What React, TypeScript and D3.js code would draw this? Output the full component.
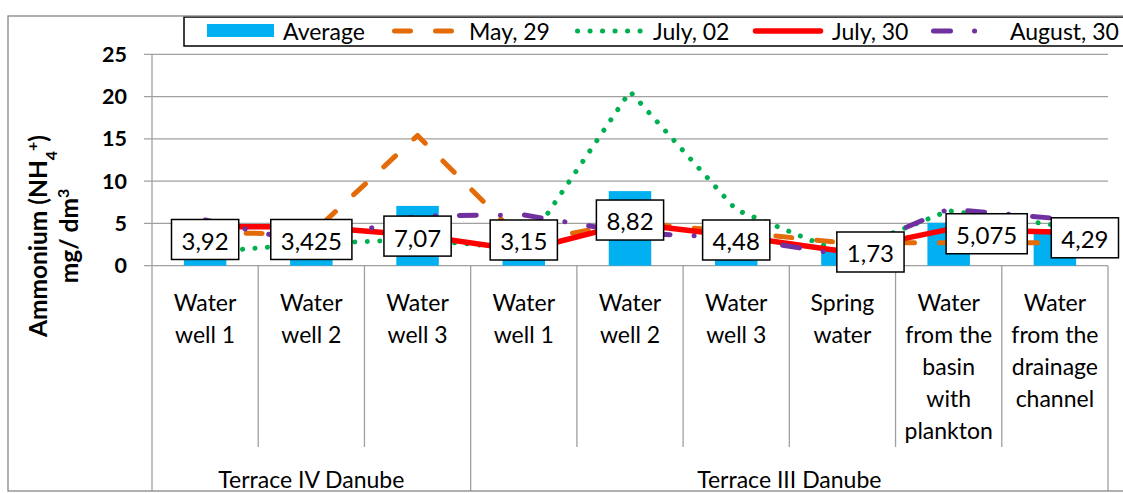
import React, { useEffect, useRef } from 'react';
import * as d3 from 'd3';

// ---------- data ----------
const categories: string[][] = [
  ['Water', 'well 1'],
  ['Water', 'well 2'],
  ['Water', 'well 3'],
  ['Water', 'well 1'],
  ['Water', 'well 2'],
  ['Water', 'well 3'],
  ['Spring', 'water'],
  ['Water', 'from the', 'basin', 'with', 'plankton'],
  ['Water', 'from the', 'drainage', 'channel'],
];
const groupNames = ['Terrace IV Danube', 'Terrace III Danube'];
const groupSizes = [3, 6];

const average = [3.92, 3.425, 7.07, 3.15, 8.82, 4.48, 1.73, 5.075, 4.29];
const averageLabels = ['3,92', '3,425', '7,07', '3,15', '8,82', '4,48', '1,73', '5,075', '4,29'];
const may29 = [3.9, 3.75, 15.4, 2.8, 5.1, 4.0, 2.7, 2.7, 2.7];
const july02 = [1.6, 2.6, 3.1, 2.0, 20.6, 6.6, 1.5, 6.5, 4.8];
const july30 = [4.6, 4.6, 3.6, 1.8, 5.0, 3.5, 1.7, 4.3, 4.0];
const august30 = [5.4, 2.6, 5.9, 6.0, 3.9, 3.3, 1.3, 6.7, 5.6];
// where each (manually placed) data label box sits, in data units
const labelAnchor = [3.1, 3.1, 3.5, 3.04, 5.4, 3.04, 1.62, 3.78, 3.3];
const yTicks = [0, 5, 10, 15, 20, 25];

const FONT = 'Lato, "Open Sans", sans-serif';

export default function App() {
  const ref = useRef<SVGSVGElement | null>(null);

  useEffect(() => {
    const svg = d3.select(ref.current);
    svg.selectAll('*').remove();

    const W = 1123;
    const plotL = 152, plotR = 1108, plotT = 54.3, plotB = 265.7;

    const defs = svg.append('defs');
    defs.append('clipPath').attr('id', 'chartClip')
      .append('rect').attr('x', 8).attr('y', 16).attr('width', W).attr('height', 475);

    const root = svg.append('g').attr('clip-path', 'url(#chartClip)');
    root.append('rect').attr('x', 8).attr('y', 16).attr('width', W).attr('height', 475).attr('fill', '#fff');

    const idx = d3.range(categories.length).map(String);
    const x = d3.scaleBand<string>().domain(idx).range([plotL, plotR]).paddingInner(0).paddingOuter(0);
    const y = d3.scaleLinear().domain([0, 25]).range([plotB, plotT]);
    const cx = (i: number) => (x(String(i)) as number) + x.bandwidth() / 2;

    const gridColor = '#a0a0a0';

    // gridlines
    root.append('g').selectAll('line').data(yTicks).join('line')
      .attr('x1', plotL - 8).attr('x2', plotR)
      .attr('y1', d => y(d)).attr('y2', d => y(d))
      .attr('stroke', gridColor).attr('stroke-width', 1.3);

    // y axis line (extends through category area)
    root.append('line').attr('x1', plotL).attr('x2', plotL).attr('y1', plotT).attr('y2', 491)
      .attr('stroke', gridColor).attr('stroke-width', 1.3);

    // category separators
    let cum = 0;
    const groupBounds: number[] = [];
    groupSizes.forEach(s => { cum += s; groupBounds.push(cum); });
    for (let i = 1; i <= categories.length; i++) {
      const bx = i === categories.length ? plotR : (x(String(i)) as number);
      const full = groupBounds.includes(i);
      root.append('line').attr('x1', bx).attr('x2', bx).attr('y1', plotB)
        .attr('y2', full ? 491 : 447)
        .attr('stroke', gridColor).attr('stroke-width', 1.3);
    }

    // y tick labels
    root.append('g').selectAll('text').data(yTicks).join('text')
      .attr('x', 127).attr('y', d => y(d)).attr('dy', '0.35em')
      .attr('text-anchor', 'end').attr('font-family', FONT).attr('font-weight', 'bold')
      .attr('font-size', 21.5).attr('fill', '#000').text(d => String(d));

    // y axis title
    const t1 = root.append('text').attr('transform', 'translate(38,236) rotate(-90)')
      .attr('text-anchor', 'middle').attr('font-family', FONT).attr('font-weight', 'bold')
      .attr('font-size', 24.5).attr('fill', '#000').attr('dy', '0.35em');
    t1.append('tspan').text('Ammonium (NH');
    t1.append('tspan').attr('baseline-shift', 'sub').attr('font-size', 16).text('4');
    t1.append('tspan').attr('baseline-shift', 'super').attr('font-size', 16).text('+');
    t1.append('tspan').text(')');
    const t2 = root.append('text').attr('transform', 'translate(69,236) rotate(-90)')
      .attr('text-anchor', 'middle').attr('font-family', FONT).attr('font-weight', 'bold')
      .attr('font-size', 24.5).attr('fill', '#000').attr('dy', '0.35em');
    t2.append('tspan').text('mg/ dm');
    t2.append('tspan').attr('baseline-shift', 'super').attr('font-size', 16).text('3');

    // category labels
    categories.forEach((lines, i) => {
      lines.forEach((ln, j) => {
        root.append('text').attr('x', cx(i)).attr('y', 303 + 32 * j).attr('dy', '0.35em')
          .attr('text-anchor', 'middle').attr('font-family', FONT).attr('font-size', 23)
          .attr('fill', '#000').text(ln);
      });
    });

    // group labels
    let start = 0;
    groupNames.forEach((g, k) => {
      const a = x(String(start)) as number;
      const endIdx = start + groupSizes[k];
      const b = endIdx >= categories.length ? plotR : (x(String(endIdx)) as number);
      root.append('text').attr('x', (a + b) / 2).attr('y', 488)
        .attr('text-anchor', 'middle').attr('font-family', FONT).attr('font-size', 23)
        .attr('fill', '#000').text(g);
      start = endIdx;
    });

    // bars
    const bw = x.bandwidth() * 0.4;
    root.append('g').selectAll('rect').data(average).join('rect')
      .attr('x', (_, i) => cx(i) - bw / 2).attr('width', bw)
      .attr('y', d => y(d)).attr('height', d => plotB - y(d))
      .attr('fill', '#00b0f0');

    // lines
    const series = [
      { name: 'May, 29', values: may29, color: '#e36c09', dash: '16 25', w: 5 },
      { name: 'July, 02', values: july02, color: '#00b050', dash: '0.1 12.4', w: 5 },
      { name: 'July, 30', values: july30, color: '#ff0000', dash: null as string | null, w: 5.5 },
      { name: 'August, 30', values: august30, color: '#7030a0', dash: '17 24 0.1 24', w: 5 },
    ];
    const lineGen = d3.line<number>().x((_, i) => cx(i)).y(d => y(d));
    series.forEach(s => {
      const p = root.append('path').attr('d', lineGen(s.values) as string)
        .attr('fill', 'none').attr('stroke', s.color).attr('stroke-width', s.w)
        .attr('stroke-linecap', 'round').attr('stroke-linejoin', 'round');
      if (s.dash) p.attr('stroke-dasharray', s.dash);
    });

    // data labels
    const labelDx = [0, 0, 0, 0, 0, 0, 28, 38, 30];
    averageLabels.forEach((lab, i) => {
      const g = root.append('g');
      const tx = cx(i) + labelDx[i];
      const ty = y(labelAnchor[i]);
      const rect = g.append('rect').attr('fill', '#fff').attr('stroke', '#000').attr('stroke-width', 1.5);
      const txt = g.append('text').attr('x', tx).attr('y', ty + 2).attr('dy', '0.35em')
        .attr('text-anchor', 'middle').attr('font-family', FONT).attr('font-size', 24)
        .attr('fill', '#000').text(lab);
      const tw = (txt.node() as SVGTextElement).getComputedTextLength();
      const bwid = tw + 20;
      rect.attr('x', tx - bwid / 2).attr('y', ty - 20).attr('width', bwid).attr('height', 40);
    });

    // legend
    const lg = root.append('g');
    lg.append('rect').attr('x', 184).attr('y', 17).attr('width', 1000).attr('height', 29)
      .attr('fill', '#fff').attr('stroke', '#000').attr('stroke-width', 1.5);
    const legendSwatchX = [207, 392, 575, 753, 931];
    const legendTextX = [283, 469, 653, 832, 1010];
    lg.append('rect').attr('x', legendSwatchX[0]).attr('y', 24).attr('width', 67).attr('height', 13)
      .attr('fill', '#00b0f0');
    lg.append('text').attr('x', legendTextX[0]).attr('y', 32).attr('dy', '0.35em')
      .attr('font-family', FONT).attr('font-size', 23).attr('fill', '#000').text('Average');
    series.forEach((s, k) => {
      const sx = legendSwatchX[k + 1];
      const p = lg.append('line').attr('x1', sx + 2.5).attr('x2', sx + 67).attr('y1', 31).attr('y2', 31)
        .attr('stroke', s.color).attr('stroke-width', s.w).attr('stroke-linecap', 'round');
      if (s.dash) p.attr('stroke-dasharray', s.dash);
      if (!s.dash) p.attr('x2', sx + 67.5);
      lg.append('text').attr('x', legendTextX[k + 1]).attr('y', 32).attr('dy', '0.35em')
        .attr('font-family', FONT).attr('font-size', 23).attr('fill', '#000').text(s.name);
    });

    // outer border
    svg.append('rect').attr('x', 8).attr('y', 16).attr('width', W).attr('height', 475)
      .attr('fill', 'none').attr('stroke', '#868686').attr('stroke-width', 1.3);
  }, []);

  return (
    <svg ref={ref} width={1123} height={493}
      style={{ position: 'absolute', left: 0, top: 0, background: '#fff' }} />
  );
}
